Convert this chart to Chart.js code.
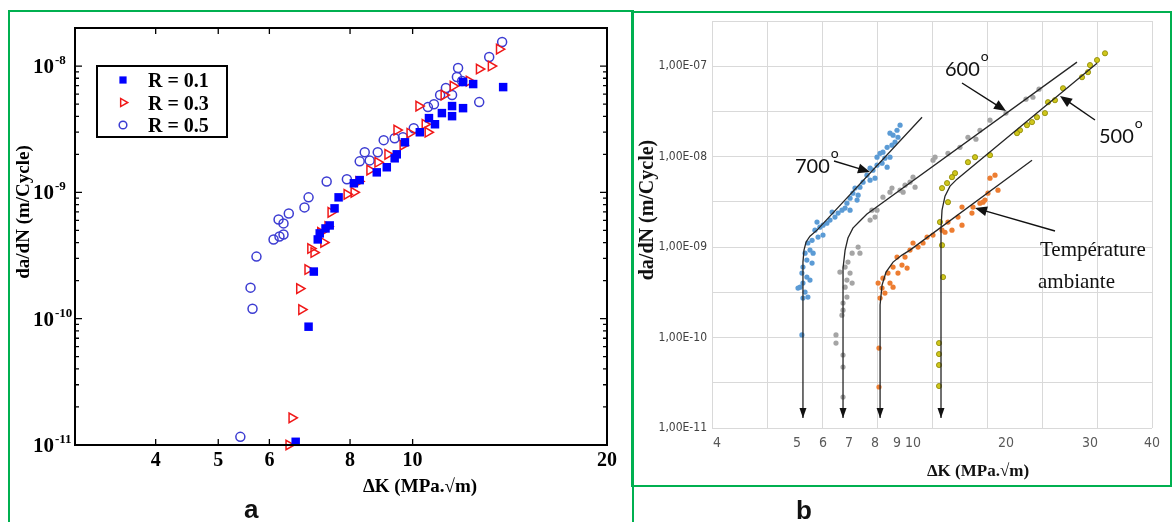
<!DOCTYPE html>
<html>
<head>
<meta charset="utf-8">
<script src="https://cdn.jsdelivr.net/npm/chart.js@4.4.1/dist/chart.umd.min.js"></script>
<style>
  html, body { margin: 0; padding: 0; background: #fff; }
  body { width: 1174px; height: 522px; position: relative; overflow: hidden; }
  canvas { position: absolute; top: 0; }
  #ca { left: 0; }
  #cb { left: 632px; }
  .frame { position: absolute; border: 2px solid #00b050; box-sizing: border-box; }
  .tag { position: absolute; font: bold 26px "Liberation Sans", Arial, sans-serif; line-height: 1; color: #111; }
</style>
</head>
<body>
<div class="frame" style="left:8px;top:10px;width:626px;height:540px;"></div>
<div class="frame" style="left:631px;top:11px;width:541px;height:476px;"></div>
<canvas id="ca" width="630" height="522"></canvas>
<canvas id="cb" width="542" height="522"></canvas>
<div class="tag" style="left:244px;top:496px;">a</div>
<div class="tag" style="left:796px;top:497px;">b</div>

<script>
// ---- panel a : da/dN vs dK for three load ratios
const KA_TICKS = [4, 5, 6, 8, 10, 20];
const RATE_A_DECADES = [1e-11, 1e-10, 1e-9, 1e-8];
const R_LABELS = ['R = 0.1', 'R = 0.3', 'R = 0.5'];

const R01 = [
  [6.59, 1.06e-11], [6.90, 8.64e-11], [7.03, 2.36e-10], [7.13, 4.24e-10], [7.18, 4.73e-10],
  [7.33, 5.18e-10], [7.44, 5.47e-10], [7.57, 7.47e-10], [7.68, 9.13e-10], [8.11, 1.18e-9],
  [8.28, 1.25e-9], [8.80, 1.44e-9], [9.12, 1.58e-9], [9.38, 1.86e-9], [9.45, 2.00e-9],
  [9.73, 2.49e-9], [10.26, 2.99e-9], [10.60, 3.87e-9], [10.83, 3.46e-9], [11.10, 4.24e-9],
  [11.51, 4.82e-9], [11.51, 4.01e-9], [11.97, 4.64e-9], [11.97, 7.47e-9], [12.41, 7.20e-9],
  [13.81, 6.81e-9],
];
const R03 = [
  [6.43, 1.0e-11], [6.50, 1.64e-11], [6.73, 1.18e-10], [6.68, 1.73e-10], [6.88, 2.45e-10],
  [6.95, 3.59e-10], [7.03, 3.34e-10], [7.28, 4.01e-10], [7.20, 4.82e-10], [7.39, 5.37e-10],
  [7.47, 6.94e-10], [7.91, 9.64e-10], [8.11, 1.00e-9], [8.25, 1.22e-9], [8.58, 1.50e-9],
  [8.83, 1.73e-9], [9.15, 2.00e-9], [9.45, 3.11e-9], [9.66, 2.36e-9], [9.90, 2.94e-9],
  [10.22, 4.82e-9], [10.45, 3.46e-9], [10.56, 2.99e-9], [11.18, 5.89e-9], [11.55, 6.94e-9],
  [12.23, 7.60e-9], [12.68, 9.47e-9], [13.23, 1.0e-8], [13.62, 1.36e-8],
];
const R05 = [
  [5.41, 1.16e-11], [5.65, 1.20e-10], [5.61, 1.76e-10], [5.73, 3.10e-10], [6.09, 4.24e-10],
  [6.22, 4.47e-10], [6.31, 4.64e-10], [6.31, 5.68e-10], [6.20, 6.10e-10], [6.43, 6.81e-10],
  [6.80, 7.60e-10], [6.90, 9.13e-10], [7.36, 1.22e-9], [7.91, 1.27e-9], [8.28, 1.76e-9],
  [8.43, 2.08e-9], [8.58, 1.79e-9], [8.83, 2.08e-9], [9.02, 2.59e-9], [9.38, 2.68e-9],
  [9.66, 2.73e-9], [10.04, 3.22e-9], [10.56, 4.73e-9], [10.79, 4.99e-9], [11.03, 5.89e-9],
  [11.26, 6.69e-9], [11.51, 5.89e-9], [11.71, 8.18e-9], [11.76, 9.64e-9], [11.93, 7.60e-9],
  [12.68, 5.18e-9], [13.14, 1.18e-8], [13.76, 1.55e-8],
];

// ---- panel b : da/dN vs dK at four temperatures
const KB_LABELS = [4, 5, 6, 7, 8, 9, 10, 20, 30, 40];
const RATE_B_DECADES = [1e-11, 1e-10, 1e-9, 1e-8, 1e-7];
const RATE_B_LABELS = ['1,00E-11', '1,00E-10', '1,00E-09', '1,00E-08', '1,00E-07'];
const RATE_B_GRID = [1e-11, 3.1623e-11, 1e-10, 3.1623e-10, 1e-9, 3.1623e-9, 1e-8, 3.1623e-8, 1e-7, 3.1623e-7];

const T700 = [
  [9.19, 2.23e-8], [9.00, 1.96e-8], [8.82, 1.73e-8], [8.68, 1.82e-8], [9.06, 1.64e-8],
  [8.91, 1.45e-8], [8.77, 1.34e-8], [8.55, 1.27e-8], [8.36, 1.12e-8], [8.23, 1.09e-8],
  [8.09, 9.87e-9], [8.45, 9.62e-9], [8.68, 9.87e-9], [8.32, 8.48e-9], [8.55, 7.66e-9],
  [8.09, 8.06e-9], [7.92, 7.09e-9], [7.81, 7.46e-9], [7.69, 6.25e-9], [7.81, 5.50e-9],
  [8.00, 5.79e-9], [7.54, 5.23e-9], [7.42, 4.60e-9], [7.23, 4.49e-9], [7.35, 3.75e-9],
  [7.15, 3.95e-9], [7.04, 3.48e-9], [7.31, 3.31e-9], [6.92, 3.06e-9], [6.85, 2.70e-9],
  [6.73, 2.56e-9], [7.04, 2.56e-9], [6.58, 2.38e-9], [6.46, 2.15e-9], [6.35, 2.44e-9],
  [6.27, 1.99e-9], [6.15, 1.84e-9], [6.00, 1.75e-9], [5.88, 1.66e-9], [5.77, 1.89e-9],
  [5.69, 1.54e-9], [6.00, 1.36e-9], [5.81, 1.29e-9], [5.58, 1.19e-9], [5.42, 1.11e-9],
  [5.50, 9.27e-10], [5.31, 8.58e-10], [5.62, 8.58e-10], [5.38, 7.19e-10], [5.58, 6.66e-10],
  [5.23, 6.01e-10], [5.19, 5.16e-10], [5.38, 4.66e-10], [5.50, 4.32e-10], [5.23, 4.00e-10],
  [5.12, 3.61e-10], [5.31, 3.18e-10], [5.42, 2.80e-10], [5.23, 2.73e-10], [5.04, 3.52e-10],
  [5.19, 1.07e-10],
];
const T600 = [
  [23.93, 5.57e-8], [23.21, 4.54e-8], [22.38, 4.32e-8], [20.0, 3.03e-8], [18.28, 2.53e-8],
  [17.20, 1.96e-8], [16.77, 1.56e-8], [15.91, 1.64e-8], [15.05, 1.27e-8], [13.76, 1.09e-8],
  [12.15, 9.15e-9], [12.37, 9.87e-9], [10.0, 5.94e-9], [9.81, 5.23e-9], [9.50, 4.84e-9],
  [10.22, 4.60e-9], [9.38, 4.05e-9], [9.19, 4.26e-9], [8.77, 4.49e-9], [8.68, 4.05e-9],
  [8.36, 3.57e-9], [8.09, 2.56e-9], [7.88, 2.56e-9], [8.00, 2.15e-9], [7.81, 1.99e-9],
  [7.35, 1.00e-9], [7.42, 8.58e-10], [7.12, 8.58e-10], [6.96, 6.83e-10], [6.85, 6.01e-10],
  [6.65, 5.29e-10], [7.04, 5.16e-10], [6.92, 4.32e-10], [7.12, 4.00e-10], [6.85, 3.61e-10],
  [6.92, 2.80e-10], [6.77, 2.41e-10], [6.77, 2.01e-10], [6.73, 1.77e-10], [6.50, 1.07e-10],
  [6.50, 8.69e-11], [6.77, 6.41e-11], [6.77, 4.72e-11], [6.77, 2.20e-11],
];
const T500 = [
  [32.42, 1.39e-7], [31.13, 1.17e-7], [30.0, 1.03e-7], [29.76, 8.59e-8], [29.05, 7.56e-8],
  [26.79, 5.71e-8], [25.83, 4.21e-8], [25.0, 4.00e-8], [24.64, 3.03e-8], [23.69, 2.73e-8],
  [23.10, 2.41e-8], [22.50, 2.23e-8], [21.67, 1.96e-8], [21.31, 1.82e-8], [18.28, 1.04e-8],
  [16.67, 9.87e-9], [15.91, 8.69e-9], [14.52, 6.57e-9], [14.19, 5.94e-9], [13.66, 5.10e-9],
  [13.12, 4.49e-9], [13.76, 3.14e-9], [12.90, 1.89e-9], [13.12, 1.05e-9], [13.23, 4.66e-10],
  [12.80, 8.69e-11], [12.80, 6.57e-11], [12.80, 4.97e-11], [12.80, 2.91e-11],
];
const TAMB = [
  [18.28, 5.79e-9], [18.82, 6.25e-9], [19.14, 4.26e-9], [18.06, 3.95e-9], [17.74, 3.31e-9],
  [17.53, 3.14e-9], [17.20, 3.06e-9], [16.45, 2.77e-9], [16.34, 2.38e-9], [15.27, 2.77e-9],
  [14.84, 2.15e-9], [13.76, 1.89e-9], [15.27, 1.75e-9], [14.19, 1.54e-9], [13.44, 1.46e-9],
  [13.12, 1.54e-9], [12.15, 1.36e-9], [11.51, 1.29e-9], [11.08, 1.11e-9], [10.54, 1.00e-9],
  [10.0, 1.11e-9], [9.81, 9.27e-10], [9.50, 7.75e-10], [9.00, 7.75e-10], [9.31, 6.33e-10],
  [9.63, 5.86e-10], [8.82, 6.01e-10], [9.06, 5.16e-10], [8.59, 5.16e-10], [8.36, 4.54e-10],
  [8.68, 4.00e-10], [8.14, 4.00e-10], [8.32, 3.52e-10], [8.82, 3.61e-10], [8.45, 3.10e-10],
  [8.23, 2.73e-10], [8.18, 7.66e-11], [8.18, 2.84e-11],
];

// fitted curves (vertical threshold + Paris line)
const FIT700 = [[5.23, 1.29e-11], [5.23, 6.83e-10], [5.27, 9.27e-10], [5.35, 1.14e-9], [5.50, 1.32e-9], [5.77, 1.54e-9], [10.97, 2.73e-8]];
const FIT600 = [[6.77, 1.29e-11], [6.77, 5.86e-10], [6.85, 9.27e-10], [6.96, 1.26e-9], [7.15, 1.62e-9], [7.42, 1.94e-9], [7.69, 2.32e-9], [28.45, 1.11e-7]];
const FITAMB = [[8.23, 1.29e-11], [8.23, 2.29e-10], [8.32, 3.80e-10], [8.50, 5.29e-10], [8.82, 6.83e-10], [9.31, 8.16e-10], [9.81, 9.27e-10], [23.10, 9.15e-9]];
const FIT500 = [[13.01, 1.29e-11], [13.01, 1.62e-9], [13.12, 2.56e-9], [13.44, 3.66e-9], [13.98, 4.72e-9], [14.73, 5.64e-9], [31.13, 1.08e-7]];

const SERIF = '"Liberation Serif", "Times New Roman", serif';
const NARROW = '"Liberation Sans Narrow", "DejaVu Sans Condensed", "Liberation Sans", sans-serif';
const SANS = 'Lato, "Open Sans", sans-serif';

// the x axis of panel b is a pasted, uneven scale: where each label sits on the 8 grid cells
const KB_AT = [0.09, 1.545, 2.018, 2.491, 2.964, 3.364, 3.655, 5.345, 6.873, 8.0];
function kb(k) {
  let i = 0;
  while (i < KB_LABELS.length - 2 && k > KB_LABELS[i + 1]) i++;
  const t = (k - KB_LABELS[i]) / (KB_LABELS[i + 1] - KB_LABELS[i]);
  return KB_AT[i] + t * (KB_AT[i + 1] - KB_AT[i]);
}

const toXY = (arr) => arr.map(([x, y]) => ({ x, y }));
const toXYb = (arr) => arr.map(([k, r]) => ({ x: kb(k), y: r }));

const noPad = (s) => { s.paddingLeft = 0; s.paddingRight = 0; s.paddingTop = 0; s.paddingBottom = 0; };

// ---------- chart a
const styleA = [
  { pointStyle: 'rect', radius: 6, rotation: 0, borderWidth: 0, fill: '#0000ff', stroke: '#0000ff' },
  { pointStyle: 'triangle', radius: 5.5, rotation: 90, borderWidth: 1.5, fill: 'rgba(0,0,0,0)', stroke: '#f01818' },
  { pointStyle: 'circle', radius: 4.5, rotation: 0, borderWidth: 1.5, fill: 'rgba(0,0,0,0)', stroke: '#3c3cd2' },
];

const frameA = {
  id: 'frameA',
  afterDraw(chart) {
    const { ctx, chartArea: a, scales: { x, y } } = chart;
    ctx.save();
    ctx.strokeStyle = '#000';
    ctx.lineWidth = 2;
    ctx.strokeRect(a.left, a.top, a.right - a.left, a.bottom - a.top);

    // inward ticks
    ctx.lineWidth = 1.3;
    ctx.beginPath();
    KA_TICKS.forEach((v) => {
      const px = x.getPixelForValue(v);
      if (px >= a.right - 1) return;
      ctx.moveTo(px, a.bottom); ctx.lineTo(px, a.bottom - 6);
      ctx.moveTo(px, a.top); ctx.lineTo(px, a.top + 6);
    });
    RATE_A_DECADES.forEach((d) => {
      for (let m = 1; m <= 9; m++) {
        const v = d * m;
        if (v > y.max * 1.0001) break;
        const py = y.getPixelForValue(v);
        const len = m === 1 ? 7 : 4;
        ctx.moveTo(a.left, py); ctx.lineTo(a.left + len, py);
        ctx.moveTo(a.right, py); ctx.lineTo(a.right - len, py);
      }
    });
    ctx.stroke();

    // y labels 10^n
    ctx.fillStyle = '#000';
    ctx.textAlign = 'left';
    ctx.textBaseline = 'alphabetic';
    RATE_A_DECADES.forEach((d) => {
      const py = y.getPixelForValue(d);
      ctx.font = `bold 21px ${SERIF}`;
      ctx.fillText('10', a.left - 42, py + 7);
      const w = ctx.measureText('10').width;
      ctx.font = `bold 13px ${SERIF}`;
      ctx.fillText(String(Math.round(Math.log10(d))), a.left - 42 + w + 1, py - 2);
    });

    // axis titles
    ctx.font = `bold 19px ${SERIF}`;
    ctx.textAlign = 'center';
    ctx.textBaseline = 'middle';
    ctx.fillText('\u0394K (MPa.\u221Am)', 420, 487);
    ctx.save();
    ctx.translate(24, 212);
    ctx.rotate(-Math.PI / 2);
    ctx.fillText('da/dN (m/Cycle)', 0, 0);
    ctx.restore();

    // legend
    ctx.fillStyle = '#fff';
    ctx.fillRect(97, 66, 130, 71);
    ctx.lineWidth = 2;
    ctx.strokeStyle = '#000';
    ctx.strokeRect(97, 66, 130, 71);
    R_LABELS.forEach((lab, i) => {
      const s = styleA[i];
      const cy = 80 + i * 22.5;
      ctx.fillStyle = s.fill;
      ctx.strokeStyle = s.stroke;
      ctx.lineWidth = s.borderWidth;
      Chart.helpers.drawPoint(ctx, { pointStyle: s.pointStyle, radius: s.radius * 0.85, rotation: s.rotation, borderWidth: s.borderWidth }, 123, cy);
      ctx.fillStyle = '#000';
      ctx.font = `bold 20px ${SERIF}`;
      ctx.textAlign = 'left';
      ctx.textBaseline = 'alphabetic';
      ctx.fillText(lab, 148, cy + 7);
    });
    ctx.restore();
  },
};

new Chart(document.getElementById('ca'), {
  type: 'scatter',
  data: {
    datasets: [R01, R03, R05].map((arr, i) => ({
      label: R_LABELS[i],
      data: toXY(arr),
      pointStyle: styleA[i].pointStyle,
      pointRadius: styleA[i].radius,
      pointRotation: styleA[i].rotation,
      pointBorderWidth: styleA[i].borderWidth,
      pointBackgroundColor: styleA[i].fill,
      pointBorderColor: styleA[i].stroke,
      clip: false,
    })),
  },
  options: {
    responsive: false,
    animation: false,
    layout: { padding: { top: 28, right: 23, left: 0, bottom: 0 } },
    plugins: { legend: { display: false }, tooltip: { enabled: false } },
    scales: {
      x: {
        type: 'logarithmic', min: 3, max: 20,
        afterBuildTicks: (s) => { s.ticks = KA_TICKS.map((v) => ({ value: v })); },
        afterFit: (s) => { s.height = 77; noPad(s); },
        grid: { display: false, drawTicks: false }, border: { display: false },
        ticks: {
          autoSkip: false, maxRotation: 0, padding: 4, color: '#000',
          font: { family: SERIF, size: 20, weight: 'bold' },
          callback: (v) => String(v),
        },
      },
      y: {
        type: 'logarithmic', min: 1e-11, max: 2e-8,
        afterFit: (s) => { s.width = 75; noPad(s); },
        grid: { display: false }, border: { display: false }, ticks: { display: false },
      },
    },
  },
  plugins: [frameA],
});

// ---------- chart b
function arrow(ctx, x1, y1, x2, y2, len, half) {
  const ang = Math.atan2(y2 - y1, x2 - x1);
  ctx.beginPath();
  ctx.moveTo(x1, y1);
  ctx.lineTo(x2 - Math.cos(ang) * len * 0.8, y2 - Math.sin(ang) * len * 0.8);
  ctx.stroke();
  ctx.beginPath();
  ctx.moveTo(x2, y2);
  ctx.lineTo(x2 - Math.cos(ang) * len - Math.sin(ang) * half, y2 - Math.sin(ang) * len + Math.cos(ang) * half);
  ctx.lineTo(x2 - Math.cos(ang) * len + Math.sin(ang) * half, y2 - Math.sin(ang) * len - Math.cos(ang) * half);
  ctx.closePath();
  ctx.fill();
}

const notesB = {
  id: 'notesB',
  afterDraw(chart) {
    const { ctx } = chart;
    ctx.save();
    ctx.fillStyle = '#111';
    ctx.strokeStyle = '#111';

    // arrow heads at the foot of each fitted curve
    for (let i = 0; i < 4; i++) {
      const p = chart.getDatasetMeta(i).data[0];
      ctx.beginPath();
      ctx.moveTo(p.x, p.y);
      ctx.lineTo(p.x - 3.5, p.y - 10);
      ctx.lineTo(p.x + 3.5, p.y - 10);
      ctx.closePath();
      ctx.fill();
    }

    // temperature labels
    ctx.textAlign = 'left';
    ctx.textBaseline = 'alphabetic';
    [['700', 163, 173], ['600', 313, 76], ['500', 467, 143]].forEach(([t, x, y]) => {
      ctx.font = `20px ${SANS}`;
      ctx.fillText(t, x, y);
      const w = ctx.measureText(t).width;
      ctx.font = `14px ${SANS}`;
      ctx.fillText('o', x + w + 1, y - 15);
    });
    ctx.font = `21px ${SERIF}`;
    ctx.fillText('Température', 408, 256);
    ctx.fillText('ambiante', 406, 288);

    ctx.lineWidth = 1.4;
    arrow(ctx, 202, 161, 238, 172, 12, 5);
    arrow(ctx, 330, 83, 374, 111, 12, 5);
    arrow(ctx, 463, 120, 428, 96, 12, 5);
    arrow(ctx, 423, 231, 343, 208, 12, 5);

    // axis titles
    ctx.font = `bold 17px ${SERIF}`;
    ctx.textAlign = 'center';
    ctx.textBaseline = 'middle';
    ctx.fillText('\u0394K (MPa.\u221Am)', 346, 472);
    ctx.save();
    ctx.translate(16, 210);
    ctx.rotate(-Math.PI / 2);
    ctx.font = `bold 20px ${SERIF}`;
    ctx.fillText('da/dN (m/Cycle)', 0, 0);
    ctx.restore();
    ctx.restore();
  },
};

const fitSet = (arr) => ({
  data: toXYb(arr), showLine: true, borderColor: '#262626', borderWidth: 1.3,
  pointRadius: 0, tension: 0, clip: false,
});
const dotSet = (arr, fill, edge) => ({
  data: toXYb(arr), showLine: false, pointRadius: 2.6,
  pointBackgroundColor: fill, pointBorderColor: edge || fill, pointBorderWidth: edge ? 0.8 : 0,
});

new Chart(document.getElementById('cb'), {
  type: 'scatter',
  data: {
    datasets: [
      fitSet(FIT700), fitSet(FIT600), fitSet(FITAMB), fitSet(FIT500),
      dotSet(T700, '#5b9bd5'), dotSet(T600, '#a5a5a5'), dotSet(TAMB, '#ed7d31'), dotSet(T500, '#cfc61c', '#8a8500'),
    ],
  },
  options: {
    responsive: false,
    animation: false,
    layout: { padding: { top: 21, right: 22, left: 0, bottom: 0 } },
    plugins: { legend: { display: false }, tooltip: { enabled: false } },
    scales: {
      x: {
        type: 'linear', min: 0, max: 8,
        ticks: { display: false, stepSize: 1 },
        grid: { color: '#d9d9d9', drawTicks: false }, border: { display: false },
        afterFit: (s) => { s.height = 0; noPad(s); },
      },
      xl: {
        type: 'linear', position: 'bottom', min: 0, max: 8,
        afterBuildTicks: (s) => { s.ticks = KB_LABELS.map((k) => ({ value: kb(k) })); },
        afterFit: (s) => { s.height = 94; noPad(s); },
        grid: { display: false, drawTicks: false }, border: { display: false },
        ticks: {
          autoSkip: false, maxRotation: 0, padding: 7, color: '#595959',
          font: { family: NARROW, size: 14 },
          callback: (v, i) => String(KB_LABELS[i]),
        },
      },
      y: {
        type: 'logarithmic', min: 1e-11, max: 3.1623e-7,
        afterBuildTicks: (s) => { s.ticks = RATE_B_GRID.map((v) => ({ value: v })); },
        afterFit: (s) => { s.width = 80; noPad(s); },
        grid: { color: '#d9d9d9', drawTicks: false }, border: { display: false },
        ticks: {
          autoSkip: false, padding: 5, color: '#404040',
          font: { family: NARROW, size: 12 },
          callback: (v) => {
            const i = RATE_B_DECADES.findIndex((d) => Math.abs(d - v) / d < 1e-6);
            return i < 0 ? '' : RATE_B_LABELS[i];
          },
        },
      },
    },
  },
  plugins: [notesB],
});
</script>
</body>
</html>
